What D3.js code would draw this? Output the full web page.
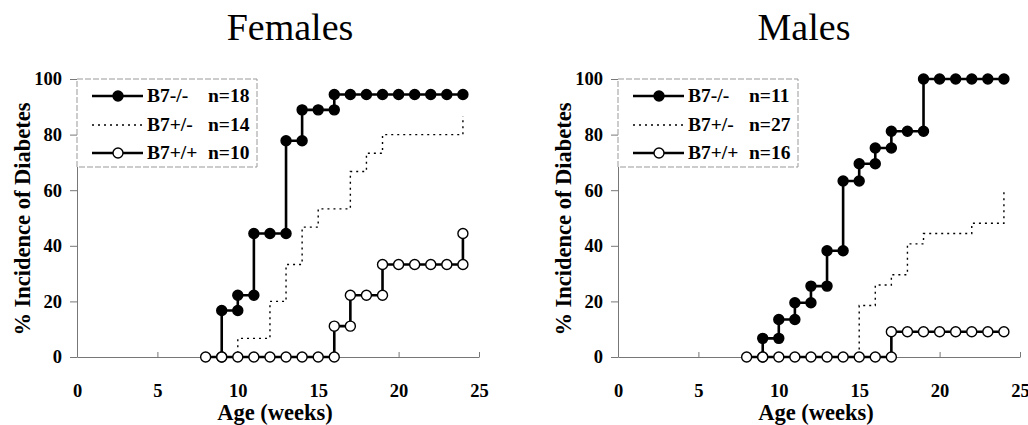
<!DOCTYPE html>
<html>
<head>
<meta charset="utf-8">
<script src="https://cdn.jsdelivr.net/npm/d3@7/dist/d3.min.js"></script>
<style>
  body { margin: 0; background: #fff; }
</style>
</head>
<body>
<div id="chart"></div>
<script>
// Females
var femKoWeeks  = [9, 9, 10, 10, 11, 11, 12, 13, 13, 14, 14, 15, 16, 16, 17, 18, 19, 20, 21, 22, 23, 24];
var femKoPct    = [0, 16.7, 16.7, 22.2, 22.2, 44.4, 44.4, 44.4, 77.8, 77.8, 88.9, 88.9, 88.9, 94.4, 94.4, 94.4, 94.4, 94.4, 94.4, 94.4, 94.4, 94.4];
var femHetWeeks = [8, 10, 10, 12, 12, 13, 13, 14, 14, 15, 15, 17, 17, 18, 18, 19, 19, 24, 24];
var femHetPct   = [0, 0, 6.7, 6.7, 20, 20, 33.3, 33.3, 46.7, 46.7, 53.3, 53.3, 66.7, 66.7, 73.3, 73.3, 80, 80, 86.7];
var femWtWeeks  = [8, 9, 10, 11, 12, 13, 14, 15, 16, 16, 17, 17, 18, 19, 19, 20, 21, 22, 23, 24, 24];
var femWtPct    = [0, 0, 0, 0, 0, 0, 0, 0, 0, 11.1, 11.1, 22.2, 22.2, 22.2, 33.3, 33.3, 33.3, 33.3, 33.3, 33.3, 44.4];
var femCounts   = ['n=18', 'n=14', 'n=10'];

// Males
var malKoWeeks  = [9, 9, 10, 10, 11, 11, 12, 12, 13, 13, 14, 14, 15, 15, 16, 16, 17, 17, 18, 19, 19, 20, 21, 22, 23, 24];
var malKoPct    = [0, 6.7, 6.7, 13.5, 13.5, 19.5, 19.5, 25.5, 25.5, 38.2, 38.2, 63.3, 63.3, 69.5, 69.5, 75.2, 75.2, 81.2, 81.2, 81.2, 100, 100, 100, 100, 100, 100];
var malHetWeeks = [8, 15, 15, 16, 16, 17, 17, 18, 18, 19, 19, 22, 22, 24, 24];
var malHetPct   = [0, 0, 18.5, 18.5, 25.9, 25.9, 29.6, 29.6, 40.7, 40.7, 44.4, 44.4, 48.1, 48.1, 59.3];
var malWtWeeks  = [8, 9, 10, 11, 12, 13, 14, 15, 16, 17, 17, 18, 19, 20, 21, 22, 23, 24];
var malWtPct    = [0, 0, 0, 0, 0, 0, 0, 0, 0, 0, 9.1, 9.1, 9.1, 9.1, 9.1, 9.1, 9.1, 9.1];
var malCounts   = ['n=11', 'n=27', 'n=16'];

var genotypes = ['B7-/-', 'B7+/-', 'B7+/+'];
var xTicks = [0, 5, 10, 15, 20, 25];
var yTicks = [0, 20, 40, 60, 80, 100];

var width = 1028;
var height = 425;

var svg = d3.select('#chart')
  .append('svg')
  .attr('width', width)
  .attr('height', height)
  .attr('font-family', 'serif');

function zip(weeks, pct) {
  return weeks.map(function(w, i) { return { week: w, pct: pct[i] }; });
}

var panels = [
  { title: 'Females', titleX: 290, left: 77, counts: femCounts,
    series: [zip(femHetWeeks, femHetPct), zip(femKoWeeks, femKoPct), zip(femWtWeeks, femWtPct)] },
  { title: 'Males', titleX: 804, left: 618, counts: malCounts,
    series: [zip(malHetWeeks, malHetPct), zip(malKoWeeks, malKoPct), zip(malWtWeeks, malWtPct)] }
];

// series order in panel.series: dotted, filled, hollow (hollow drawn last, on top)
var styles = [
  { dash: '2,4', width: 1.4, marker: null },
  { dash: null, width: 2.6, marker: '#000' },
  { dash: null, width: 2.6, marker: '#fff' }
];

panels.forEach(function(p) {
  var x = d3.scaleLinear().domain([0, 25]).range([p.left, p.left + 402]);
  var y = d3.scaleLinear().domain([0, 100]).range([357, 79]);
  var g = svg.append('g');

  g.append('text')
    .attr('x', p.titleX)
    .attr('y', 40)
    .attr('text-anchor', 'middle')
    .attr('font-size', 38)
    .text(p.title);

  var xAxis = g.append('g')
    .attr('transform', 'translate(0,357)')
    .call(d3.axisBottom(x).tickValues(xTicks).tickSizeInner(-5).tickSizeOuter(0).tickPadding(27));
  var yAxis = g.append('g')
    .attr('transform', 'translate(' + p.left + ',0)')
    .call(d3.axisLeft(y).tickValues(yTicks).tickSizeInner(7).tickSizeOuter(0).tickPadding(8));

  [xAxis, yAxis].forEach(function(a) {
    a.attr('font-family', 'serif').attr('font-size', 18.5).attr('font-weight', 'bold');
    a.select('.domain').attr('stroke', '#777').attr('stroke-width', 1);
    a.selectAll('.tick line').attr('stroke', '#777');
    a.selectAll('.tick text').attr('fill', '#000');
  });

  g.append('text')
    .attr('transform', 'translate(' + (p.left - 47) + ',219) rotate(-90)')
    .attr('text-anchor', 'middle')
    .attr('font-size', 22.5)
    .attr('font-weight', 'bold')
    .text('% Incidence of Diabetes');

  g.append('text')
    .attr('x', p.left + 198)
    .attr('y', 420)
    .attr('text-anchor', 'middle')
    .attr('font-size', 22.5)
    .attr('font-weight', 'bold')
    .text('Age (weeks)');

  var line = d3.line()
    .x(function(d) { return x(d.week); })
    .y(function(d) { return y(d.pct); });

  p.series.forEach(function(s, i) {
    var st = styles[i];
    g.append('path')
      .datum(s)
      .attr('d', line)
      .attr('fill', 'none')
      .attr('stroke', '#000')
      .attr('stroke-width', st.width)
      .attr('stroke-dasharray', st.dash);
    if (st.marker) {
      g.selectAll('.m' + i)
        .data(s)
        .enter()
        .append('circle')
        .attr('class', 'm' + i)
        .attr('cx', function(d) { return x(d.week); })
        .attr('cy', function(d) { return y(d.pct); })
        .attr('r', 5)
        .attr('fill', st.marker)
        .attr('stroke', '#000')
        .attr('stroke-width', 1.4);
    }
  });

  // legend
  var leg = g.append('g').attr('transform', 'translate(' + p.left + ',79)');
  leg.append('rect')
    .attr('x', 0).attr('y', 0)
    .attr('width', 180).attr('height', 88)
    .attr('fill', '#fff')
    .attr('stroke', '#999')
    .attr('stroke-width', 1)
    .attr('stroke-dasharray', '6,2');
  var rowY = [17, 46, 74];
  var legStyles = [styles[1], styles[0], styles[2]];
  genotypes.forEach(function(name, i) {
    var st = legStyles[i];
    leg.append('line')
      .attr('x1', 15).attr('x2', 66)
      .attr('y1', rowY[i]).attr('y2', rowY[i])
      .attr('stroke', '#000')
      .attr('stroke-width', st.width)
      .attr('stroke-dasharray', st.dash);
    if (st.marker) {
      leg.append('circle')
        .attr('cx', 41).attr('cy', rowY[i]).attr('r', 5)
        .attr('fill', st.marker)
        .attr('stroke', '#000')
        .attr('stroke-width', 1.4);
    }
    leg.append('text')
      .attr('x', 70).attr('y', rowY[i] + 6)
      .attr('font-size', 19.5)
      .attr('font-weight', 'bold')
      .text(name);
    leg.append('text')
      .attr('x', 131).attr('y', rowY[i] + 6)
      .attr('font-size', 19.5)
      .attr('font-weight', 'bold')
      .text(p.counts[i]);
  });
});
</script>
</body>
</html>
